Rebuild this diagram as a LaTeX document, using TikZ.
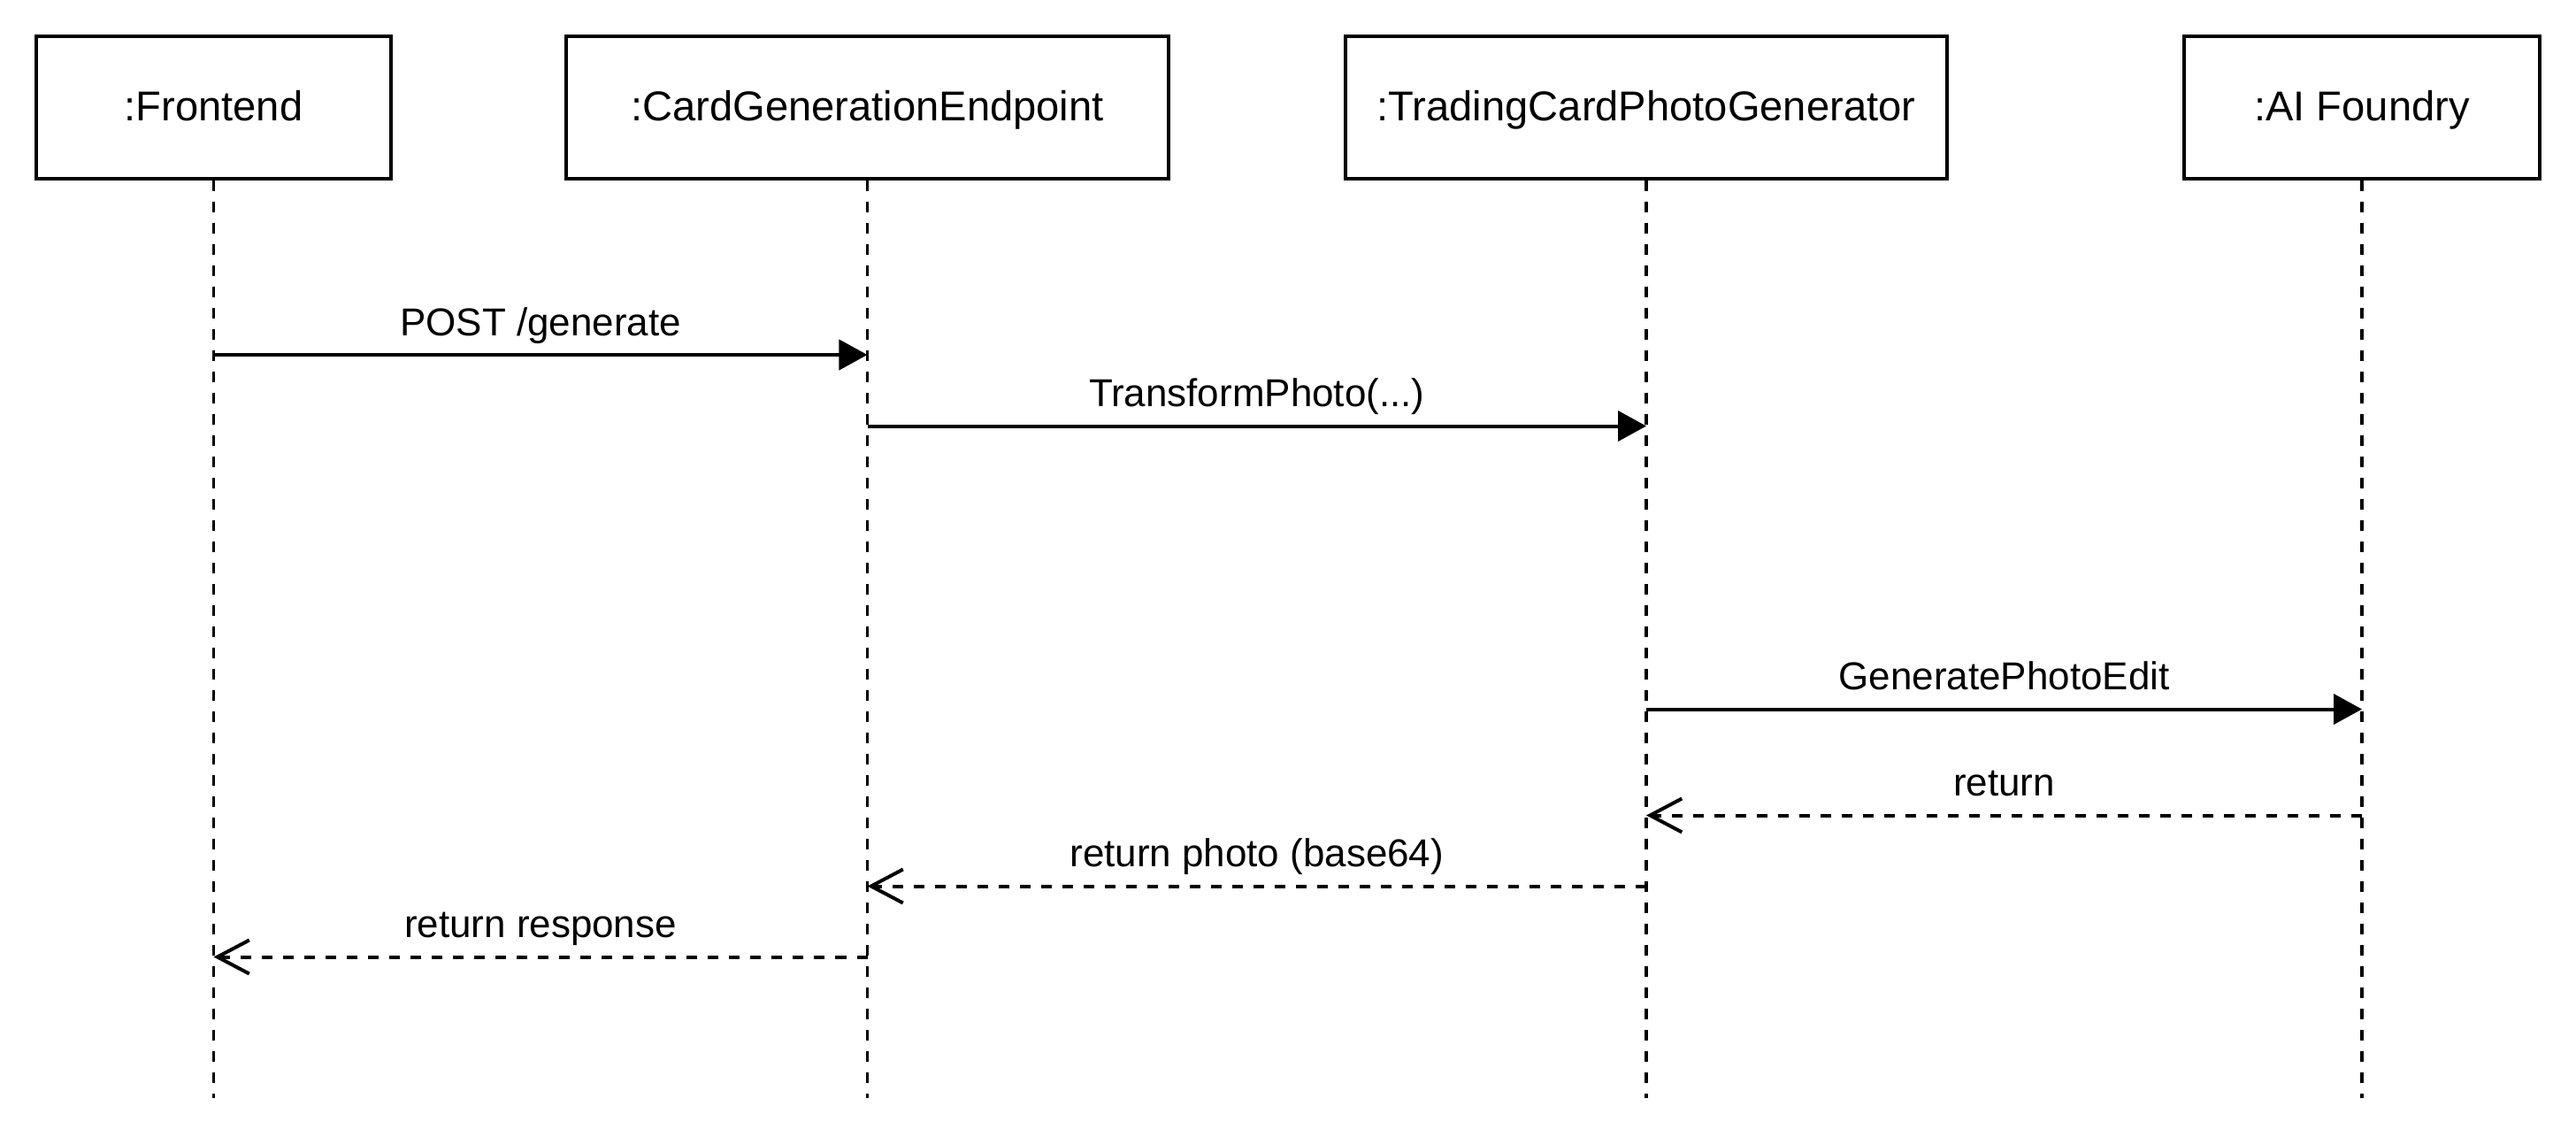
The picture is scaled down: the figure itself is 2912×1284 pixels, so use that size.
\documentclass[tikz,border=0pt]{standalone}
\usepackage{fontspec}
\setmainfont{Liberation Sans}
\usetikzlibrary{arrows.meta}

\tikzset{
  lifebox/.style={draw, line width=0.04cm, minimum height=1.6cm, inner sep=0pt,
    text height=0.40cm, text depth=0.10cm,
    font=\fontsize{13.4}{16}\selectfont},
  lifeline/.style={line width=0.035cm, dash pattern=on 0.12cm off 0.12cm},
  callmsg/.style={line width=0.04cm, -{Triangle[length=0.32cm,width=0.34cm]}},
  retmsg/.style={line width=0.04cm, dash pattern=on 0.12cm off 0.12cm,
    -{Straight Barb[length=0.36cm,width=0.38cm,line width=0.04cm]}},
  msglabel/.style={anchor=base, yshift=0.22cm, inner sep=0pt,
    font=\fontsize{12.5}{15}\selectfont}
}

\begin{document}
\begin{tikzpicture}[line cap=butt,line join=miter,x=0.01cm,y=-0.01cm]

\def\boxy{121.5} %box centre
\def\lineend{1241} %end of lifelines

\useasboundingbox (0,0) rectangle (2912,1284);

%participants
\node[lifebox, minimum width=4.01cm] (fe) at (241.5,\boxy) {:Frontend};
\node[lifebox, minimum width=6.8cm] (ep) at (980.5,\boxy) {:CardGenerationEndpoint};
\node[lifebox, minimum width=6.8cm] (gen) at (1861,\boxy) {:TradingCardPhotoGenerator};
\node[lifebox, minimum width=4.01cm] (ai) at (2670,\boxy) {:AI Foundry};

%lifelines
\foreach \p in {fe,ep,gen,ai} {
  \coordinate (\p-end) at (\p |- 0,\lineend);
  \draw[lifeline] (\p.south) -- (\p-end);
}

%message rows
\coordinate (m1) at (0,401);
\coordinate (m2) at (0,481.5);
\coordinate (m3) at (0,801.5);
\coordinate (m4) at (0,921.5);
\coordinate (m5) at (0,1001.5);
\coordinate (m6) at (0,1081.5);

%calls
\draw[callmsg] (fe |- m1) -- node[msglabel] {POST /generate} (ep |- m1);
\draw[callmsg] (ep |- m2) -- node[msglabel] {TransformPhoto(...)} (gen |- m2);
\draw[callmsg] (gen |- m3) -- node[msglabel] {GeneratePhotoEdit} (ai |- m3);

%returns
\draw[retmsg] (ai |- m4) -- node[msglabel] {return} (gen |- m4);
\draw[retmsg] (gen |- m5) -- node[msglabel] {return photo (base64)} (ep |- m5);
\draw[retmsg] (ep |- m6) -- node[msglabel] {return response} (fe |- m6);

\end{tikzpicture}
\end{document}
